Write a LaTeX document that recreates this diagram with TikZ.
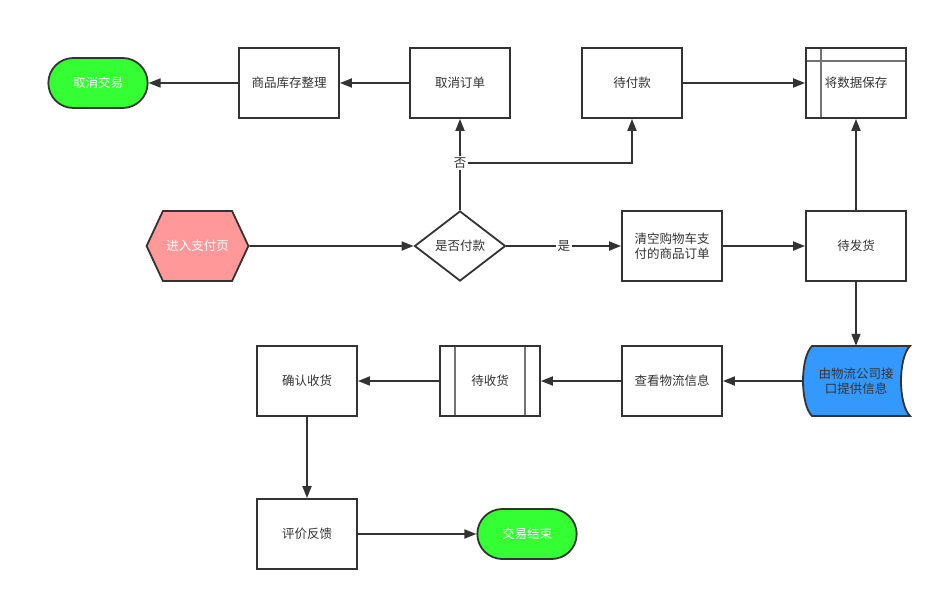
\documentclass[tikz,border=0pt]{standalone}
\usepackage{fontspec}
\setmainfont{Noto Sans CJK SC}
\usepackage{xcolor}
\usepackage{tikz}
\usetikzlibrary{positioning, arrows.meta, shapes.geometric, shapes.misc, shapes.symbols}

\definecolor{linegray}{HTML}{333333}
\definecolor{termgreen}{HTML}{33FF33}
\definecolor{startpink}{HTML}{FF9999}
\definecolor{infoblue}{HTML}{3399FF}

\begin{document}
\begin{tikzpicture}[
    x=1pt, y=-1pt,
    font=\fontsize{12.5}{15}\selectfont,
    box/.style={rectangle, draw=linegray, fill=white, line width=1.8pt, align=center, minimum width=100pt, minimum height=70pt, text=linegray},
    term/.style={rounded rectangle, draw=linegray, fill=termgreen, line width=1.8pt, minimum width=106pt, minimum height=50pt, text=white},
    start/.style={signal, signal to=west and east, signal pointer angle=130, draw=linegray, fill=startpink, line width=1.8pt, minimum width=97pt, minimum height=70pt, text=white},
    decide/.style={diamond, aspect=1.3, inner sep=0pt, draw=linegray, fill=white, line width=1.8pt, minimum width=91pt, minimum height=70pt, text=linegray},
    inner/.style={draw=black!55, line width=1.5pt, shorten <=1.8pt, shorten >=1.8pt},
    arrow/.style={-{Triangle[length=12pt, width=9pt]}, line width=1.8pt, draw=linegray},
    lbl/.style={fill=white, inner sep=1.5pt, text=linegray}
]
    \useasboundingbox (0,0) rectangle (942,602);

    % top row
    \node [term] (quit) at (98,83) {取消交易};
    \node [box] (stock) at (289,83) {商品库存整理};
    \node [box] (cancel) at (460,83) {取消订单};
    \node [box] (pay) at (632,83) {待付款};
    \node [box] (save) at (856,83) {将数据保存};
    \draw [inner] ([xshift=16pt]save.north west) -- ([xshift=16pt]save.south west);
    \draw [inner] ([yshift=-14pt]save.north west) -- ([yshift=-14pt]save.north east);

    % middle row
    \node [start] (enter) at (197.5,246) {进入支付页};
    \node [decide] (ask) at (460,246) {是否付款};
    \node [box] (clear) at (672,246) {清空购物车支\\付的商品订单};
    \node [box] (ship) at (856,246) {待发货};
    \coordinate (fork) at (460,163);

    % logistics row
    \fill [infoblue, draw=linegray, line width=1.8pt] (812,346) -- (910,346)
        .. controls (898,358) and (898,404) .. (910,416) -- (812,416)
        .. controls (800,404) and (800,358) .. (812,346) -- cycle;
    \node [align=center, text=linegray, minimum width=108pt, minimum height=70pt] (logi) at (856,381) {由物流公司接\\口提供信息};
    \node [box] (track) at (672,381) {查看物流信息};
    \node [box] (recv) at (490,381) {待收货};
    \draw [inner] ([xshift=16pt]recv.north west) -- ([xshift=16pt]recv.south west);
    \draw [inner] ([xshift=-16pt]recv.north east) -- ([xshift=-16pt]recv.south east);
    \node [box] (confirm) at (307,381) {确认收货};

    % bottom row
    \node [box] (review) at (307,534) {评价反馈};
    \node [term] (done) at (527,534) {交易结束};

    % connectors
    \draw [arrow] (stock) -- (quit);
    \draw [arrow] (cancel) -- (stock);
    \draw [arrow] (pay) -- (save);
    \draw [arrow] (fork) -| (pay);
    \draw [arrow] (ask) -- (fork) node [lbl] {否} -- (cancel);
    \draw [arrow] (enter) -- (ask);
    \draw [arrow] (ask) -- (clear) node [lbl, midway] {是};
    \draw [arrow] (clear) -- (ship);
    \draw [arrow] (ship) -- (save);
    \draw [arrow] (ship) -- (logi);
    \draw [arrow] (logi) -- (track);
    \draw [arrow] (track) -- (recv);
    \draw [arrow] (recv) -- (confirm);
    \draw [arrow] (confirm) -- (review);
    \draw [arrow] (review) -- (done);
\end{tikzpicture}
\end{document}
